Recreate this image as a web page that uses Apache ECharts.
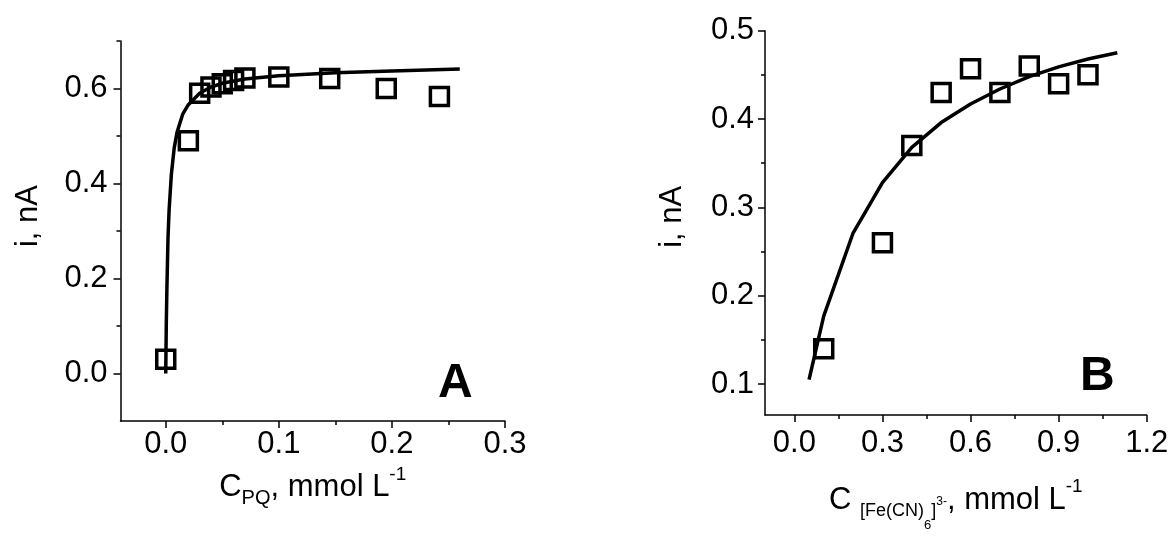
<!DOCTYPE html>
<html>
<head>
<meta charset="utf-8">
<script src="https://cdn.jsdelivr.net/npm/echarts@6/dist/echarts.min.js"></script>
<style>
  html, body { margin: 0; padding: 0; background: #ffffff; }
  #chart { width: 1173px; height: 546px; }
</style>
</head>
<body>
<div id="chart"></div>
<script>
// Panel A: current vs paraquat concentration (measured points and fitted curve)
const pqConc      = [0.0, 0.02, 0.03, 0.04, 0.05, 0.06, 0.07, 0.1, 0.145, 0.195, 0.242];
const pqCurrent   = [0.03, 0.49, 0.59, 0.603, 0.61, 0.617, 0.622, 0.624, 0.621, 0.60, 0.583];
const pqFitConc   = [0, 0.0005, 0.001, 0.002, 0.003, 0.005, 0.0075, 0.01, 0.015, 0.02, 0.03, 0.04, 0.05, 0.07, 0.1, 0.15, 0.2, 0.26];
const pqFitCurrent= [0, 0.105, 0.175, 0.285, 0.345, 0.42, 0.475, 0.508, 0.546, 0.566, 0.59, 0.603, 0.611, 0.62, 0.627, 0.633, 0.637, 0.641];

// Panel B: current vs ferricyanide concentration
const fcConc      = [0.1, 0.3, 0.4, 0.5, 0.6, 0.7, 0.8, 0.9, 1.0];
const fcCurrent   = [0.14, 0.26, 0.37, 0.43, 0.457, 0.43, 0.46, 0.44, 0.45];
const fcFitConc   = [0.05, 0.1, 0.2, 0.3, 0.4, 0.5, 0.6, 0.7, 0.8, 0.9, 1.0, 1.1];
const fcFitCurrent= [0.105, 0.177, 0.271, 0.328, 0.368, 0.396, 0.417, 0.434, 0.448, 0.459, 0.468, 0.475];

// Axis ticks (labelled major ticks and unlabelled minor ticks)
const aXMajor = [0, 0.1, 0.2, 0.3];
const aXMinor = [0.05, 0.15, 0.25];
const aYMajor = [0, 0.2, 0.4, 0.6];
const aYMinor = [0.1, 0.3, 0.5, 0.7];
const bXMajor = [0, 0.3, 0.6, 0.9, 1.2];
const bXMinor = [0.15, 0.45, 0.75, 1.05];
const bYMajor = [0.1, 0.2, 0.3, 0.4, 0.5];
const bYMinor = [0.15, 0.25, 0.35, 0.45];

const FONT = "'Liberation Sans', Arial, Helvetica, sans-serif";
const INK = '#000000';

function pairs(xs, ys) { return xs.map((x, i) => [x, ys[i]]); }

function majorAxis(gridIndex, min, max, ticks, margin, extra) {
  return Object.assign({
    type: 'value', gridIndex, min, max,
    axisLine: { show: true, onZero: false, lineStyle: { color: INK, width: 1.5 } },
    axisTick: { show: true, customValues: ticks, length: 7, inside: false, lineStyle: { color: INK, width: 1.5 } },
    axisLabel: { show: true, customValues: ticks, formatter: v => Number(v).toFixed(1),
                 color: INK, fontSize: 31, fontFamily: FONT, margin },
    splitLine: { show: false }
  }, extra || {});
}

function minorAxis(gridIndex, min, max, ticks, position) {
  return {
    type: 'value', gridIndex, min, max, position,
    axisLine: { show: false, onZero: false },
    axisTick: { show: true, customValues: ticks, length: 4, inside: false, lineStyle: { color: INK, width: 1.5 } },
    axisLabel: { show: false },
    splitLine: { show: false }
  };
}

const yName = {
  name: 'i, nA', nameLocation: 'middle', nameGap: 77,
  nameTextStyle: { color: INK, fontSize: 31, fontFamily: FONT, padding: [0, 0, 0, 30] }
};

const baseRich = {
  m:  { color: INK, fontFamily: FONT, fontSize: 31, lineHeight: 36 },
  sb: { color: INK, fontFamily: FONT, fontSize: 20, lineHeight: 36, padding: [22, 0, 0, 0] },
  sp: { color: INK, fontFamily: FONT, fontSize: 19, lineHeight: 36, padding: [0, 0, 27, 0] }
};

const richB = {
  m:   baseRich.m,
  sp:  baseRich.sp,
  sb:  { color: INK, fontFamily: FONT, fontSize: 18, lineHeight: 36, padding: [21, 0, 0, 0] },
  ss:  { color: INK, fontFamily: FONT, fontSize: 13, lineHeight: 36, padding: [50, 0, 0, 0] },
  sp3: { color: INK, fontFamily: FONT, fontSize: 12, lineHeight: 36, padding: [2, 0, 0, 0] }
};

const squareStyle = { color: 'rgba(255,255,255,0)', borderColor: INK, borderWidth: 3.5, opacity: 1 };

const option = {
  backgroundColor: '#ffffff',
  animation: false,
  grid: [
    { left: 120.5, top: 41, width: 384.5, height: 380, containLabel: false },
    { left: 765, top: 30.7, width: 381.7, height: 384.3, containLabel: false }
  ],
  xAxis: [
    majorAxis(0, -0.04, 0.3, aXMajor, 8, {
      position: 'bottom',
      name: '{m|C}{sb|PQ}{m|, mmol L}{sp|-1}', nameLocation: 'middle', nameGap: 44.5,
      nameTextStyle: { rich: baseRich }
    }),
    minorAxis(0, -0.04, 0.3, aXMinor, 'bottom'),
    majorAxis(1, -0.1, 1.2, bXMajor, 13, {
      position: 'bottom',
      name: '{m|C }{sb|[Fe(CN)}{ss|6}{sb|]}{sp3|3-}{m|, mmol L}{sp|-1}', nameLocation: 'middle', nameGap: 67.5,
      nameTextStyle: { rich: richB }
    }),
    minorAxis(1, -0.1, 1.2, bXMinor, 'bottom')
  ],
  yAxis: [
    majorAxis(0, -0.1, 0.7, aYMajor, 13, Object.assign({ position: 'left' }, yName)),
    minorAxis(0, -0.1, 0.7, aYMinor, 'left'),
    majorAxis(1, 0.065, 0.5, bYMajor, 11, Object.assign({ position: 'left' }, yName, {
      nameTextStyle: { color: INK, fontSize: 31, fontFamily: FONT, padding: [0, 0, 0, 12] }
    })),
    minorAxis(1, 0.065, 0.5, bYMinor, 'left')
  ],
  series: [
    {
      type: 'line', xAxisIndex: 0, yAxisIndex: 0, data: pairs(pqFitConc, pqFitCurrent),
      showSymbol: false, smooth: false, lineStyle: { color: INK, width: 3.5 }, silent: true
    },
    {
      type: 'scatter', xAxisIndex: 0, yAxisIndex: 0, data: pairs(pqConc, pqCurrent),
      symbol: 'rect', symbolSize: 18, itemStyle: squareStyle, silent: true
    },
    {
      type: 'line', xAxisIndex: 2, yAxisIndex: 2, data: pairs(fcFitConc, fcFitCurrent),
      showSymbol: false, smooth: false, lineStyle: { color: INK, width: 3.5 }, silent: true
    },
    {
      type: 'scatter', xAxisIndex: 2, yAxisIndex: 2, data: pairs(fcConc, fcCurrent),
      symbol: 'rect', symbolSize: 18, itemStyle: squareStyle, silent: true
    }
  ],
  graphic: [
    { type: 'text', left: 438, top: 360, style: { text: 'A', fill: INK, font: "bold 48px 'Liberation Sans', Arial, sans-serif" } },
    { type: 'text', left: 1080, top: 352.5, style: { text: 'B', fill: INK, font: "bold 48px 'Liberation Sans', Arial, sans-serif" } }
  ]
};

const chart = echarts.init(document.getElementById('chart'), null, { renderer: 'canvas' });
chart.setOption(option);
</script>
</body>
</html>
